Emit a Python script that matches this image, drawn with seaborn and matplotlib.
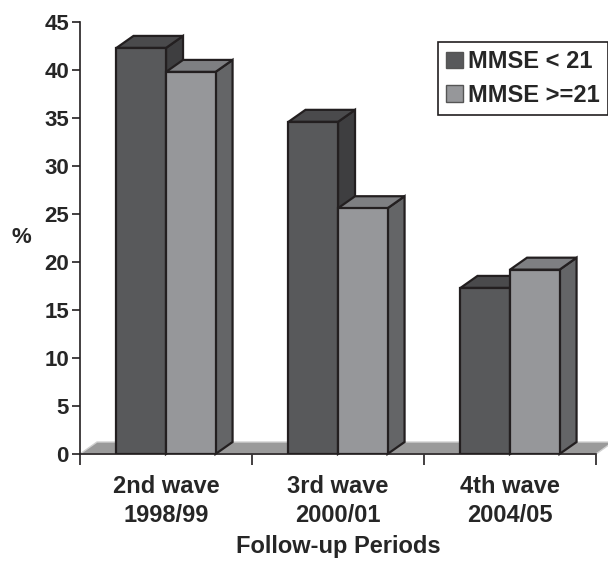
import pandas as pd
import matplotlib.pyplot as plt
import seaborn as sns
from matplotlib.patches import Polygon, Patch


waves = ['2nd wave\n1998/99', '3rd wave\n2000/01', '4th wave\n2004/05']
groups = ['MMSE < 21', 'MMSE >=21']
low_mmse = [42.3, 34.6, 17.3]
high_mmse = [39.8, 25.6, 19.2]

front_colors = ['#58595b', '#96979a']
top_colors = ['#4a4a4c', '#7e7f82']
side_colors = ['#3e3e40', '#646567']
edge = '#231f20'

# depth of the fake 3d effect, in data units
DX = 0.099
DY = 1.25

df = pd.DataFrame({
    'wave': waves * 2,
    'group': [groups[0]] * 3 + [groups[1]] * 3,
    'pct': low_mmse + high_mmse,
})

sns.set_style('white')
plt.rcParams['font.family'] = ['Liberation Sans', 'DejaVu Sans']

fig = plt.figure(figsize=(6.08, 5.61), dpi=100)
ax = fig.add_axes([80 / 608, 1 - 454 / 561, 516 / 608, 432 / 561])

sns.barplot(data=df, x='wave', y='pct', hue='group', hue_order=groups,
            palette=front_colors, width=0.576, edgecolor=edge, linewidth=1.6,
            saturation=1, legend=False, ax=ax, zorder=3)

# floor
floor = Polygon([(-0.5, 0), (2.5, 0), (2.5 + DX, DY), (-0.5 + DX, DY)],
                closed=True, facecolor='#9a9a9a', edgecolor='#d0d0d0',
                linewidth=1, clip_on=False, zorder=1)
ax.add_patch(floor)

# tops and sides, drawn per hue level so the right bar covers the left one
for i, cont in enumerate(ax.containers):
    for bar in cont:
        x0 = bar.get_x()
        x1 = x0 + bar.get_width()
        h = bar.get_height()
        top = Polygon([(x0, h), (x1, h), (x1 + DX, h + DY), (x0 + DX, h + DY)],
                      closed=True, facecolor=top_colors[i], edgecolor=edge,
                      linewidth=1.6, clip_on=False, zorder=2 + i * 0.1)
        side = Polygon([(x1, 0), (x1 + DX, DY), (x1 + DX, h + DY), (x1, h)],
                       closed=True, facecolor=side_colors[i], edgecolor=edge,
                       linewidth=1.6, clip_on=False, zorder=2 + i * 0.1)
        ax.add_patch(side)
        ax.add_patch(top)

ax.set_xlim(-0.5, 2.5)
ax.set_ylim(0, 45)
ax.set_yticks(range(0, 46, 5))
ax.set_xticks([-0.5, 0.5, 1.5, 2.5], minor=True)
ax.tick_params(axis='x', which='major', length=0, pad=15, labelsize=17)
ax.tick_params(axis='x', which='minor', length=8, width=1.2, color=edge,
               direction='out', bottom=True)
ax.tick_params(axis='y', length=6, width=1.2, color=edge, direction='out',
               left=True, labelsize=16, pad=2)
for lab in ax.get_xticklabels():
    lab.set_fontweight('bold')
    lab.set_linespacing(1.35)
for lab in ax.get_yticklabels():
    lab.set_fontweight('bold')

for s in ['top', 'right']:
    ax.spines[s].set_visible(False)
for s in ['left', 'bottom']:
    ax.spines[s].set_color(edge)
    ax.spines[s].set_linewidth(1.2)

ax.set_xlabel('Follow-up Periods', fontsize=17, fontweight='bold', labelpad=6)
ax.set_ylabel('%', fontsize=16, fontweight='bold', rotation=0, va='center')
ax.yaxis.set_label_coords(-0.114, 0.502)

handles = [Patch(facecolor=front_colors[i], edgecolor='#555555', label=groups[i])
           for i in range(2)]
leg = fig.legend(handles=handles, loc='upper left',
                 bbox_to_anchor=(438 / 608, 1 - 42 / 561), frameon=True,
                 fancybox=False, edgecolor=edge, framealpha=1,
                 prop={'weight': 'bold', 'size': 17}, handlelength=0.7,
                 handleheight=0.7, handletextpad=0.2, borderpad=0.35,
                 labelspacing=0.45, borderaxespad=0)
leg.get_frame().set_linewidth(1.2)

plt.savefig('out.png', dpi=100)
